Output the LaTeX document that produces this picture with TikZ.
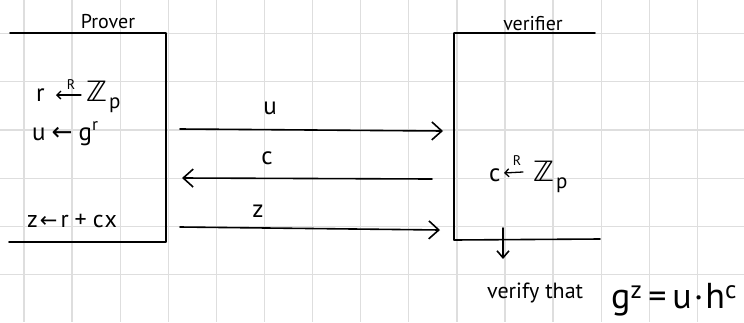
\documentclass[tikz,border=0pt]{standalone}
\usepackage{fontspec}
\setmainfont{PT Sans}
\newfontfamily\sym{DejaVu Sans}
\usetikzlibrary{arrows.meta}
\newcommand\arrsz[1]{{\sym\fontsize{#1}{#1}\selectfont ←}}
\newcommand\zee{{\sym\fontsize{28}{28}\selectfont ℤ}\hspace{2pt}\raisebox{-7pt}{\fontsize{21}{21}\selectfont p}}
\begin{document}
\begin{tikzpicture}[x=1pt,y=-1pt,
  gridline/.style={draw=black!13, line width=1.3pt},
  pen/.style={draw=black, line width=1.6pt, line cap=round, line join=round},
  msg/.style={pen, -{Straight Barb[length=10pt,width=18pt]}},
  down/.style={pen, -{Straight Barb[length=7pt,width=12pt]}},
  samp/.style={draw=black, line width=1.3pt, line cap=round, -{Straight Barb[length=4pt,width=8pt]}},
  hand/.style={inner sep=0pt, font=\fontsize{20}{22}\selectfont},
  tiny/.style={inner sep=0pt, font=\fontsize{14}{14}\selectfont},
  lbl/.style={inner sep=0pt, font=\fontsize{25}{27}\selectfont}]
\useasboundingbox (0,0) rectangle (744,322);
\fill[white] (0,0) rectangle (744,322);
% grid paper
\foreach \i in {0,...,14}{\draw[gridline] ({24+48.1*\i},0) -- ({24+48.1*\i},322);}
\foreach \j in {0,...,5}{\draw[gridline] (0,{33.3+48.3*\j}) -- (744,{33.3+48.3*\j});}
% prover bracket
\coordinate (ptl) at (10,33);
\coordinate (ptr) at (166,33);
\coordinate (pbr) at (166,242);
\coordinate (pbl) at (9,242);
\draw[pen] (ptl) -- (ptr) -- (pbr) -- (pbl);
% verifier bracket
\coordinate (vtr) at (595,33);
\coordinate (vtl) at (454,33);
\coordinate (vbl) at (454,240);
\coordinate (vbr) at (600,239);
\draw[pen] (vtr) -- (vtl) -- (vbl) -- (vbr);
% titles
\node[hand, anchor=base] (prover) at (108,28) {Prover};
\node[hand, anchor=base] (verifier) at (533,30) {verifier};
% prover steps
\node[lbl, anchor=base west] (r1) at (36,101) {r};
\node[lbl, anchor=base west] (zp1) at (86,101) {\zee};
\coordinate (a1s) at (81,95);
\coordinate (a1e) at (56,95);
\draw[samp] (a1s) -- (a1e);
\node[tiny] (R1) at (71,85) {R};
\node[lbl, anchor=base west] (s2) at (32,140) {u\hspace{6pt}{\sym ←}\hspace{6pt}g\textsuperscript{r}};
\node[lbl, anchor=base west, font=\fontsize{24}{26}\selectfont] (s3) at (27,227) {z\hspace{2pt}\arrsz{21}\hspace{3pt}r\hspace{6pt}+\hspace{6pt}c\hspace{1pt}x};
% verifier step
\node[lbl, anchor=base west] (c1v) at (489,181) {c};
\node[lbl, anchor=base west] (zp2) at (533,181) {\zee};
\coordinate (a2s) at (523,172);
\coordinate (a2e) at (504,173);
\draw[samp] (a2s) -- (a2e);
\node[tiny] (R2) at (517,161) {R};
% messages
\coordinate (u1) at (180,129);
\coordinate (u2) at (443,131);
\coordinate (c1) at (432,179);
\coordinate (c2) at (182,178);
\coordinate (z1) at (180,227);
\coordinate (z2) at (440,230);
\draw[msg] (u1) -- (u2);
\draw[msg] (c1) -- (c2);
\draw[msg] (z1) -- (z2);
\node[lbl] (lu) at (270,108) {u};
\node[lbl] (lc) at (267,158) {c};
\node[lbl] (lz) at (258,211) {z};
% verification
\coordinate (d1) at (503,228);
\coordinate (d2) at (503,259);
\draw[down] (d1) -- (d2);
\node[inner sep=0pt, anchor=base west, font=\fontsize{22}{24}\selectfont] (vt) at (487,298) {verify that};
\node[inner sep=0pt, anchor=base west, font=\fontsize{36}{38}\selectfont] (eq) at (611,308) {g\textsuperscript{z}\hspace{6pt}=\hspace{6pt}u\hspace{2pt}·\hspace{2pt}h\textsuperscript{c}};
\end{tikzpicture}
\end{document}
